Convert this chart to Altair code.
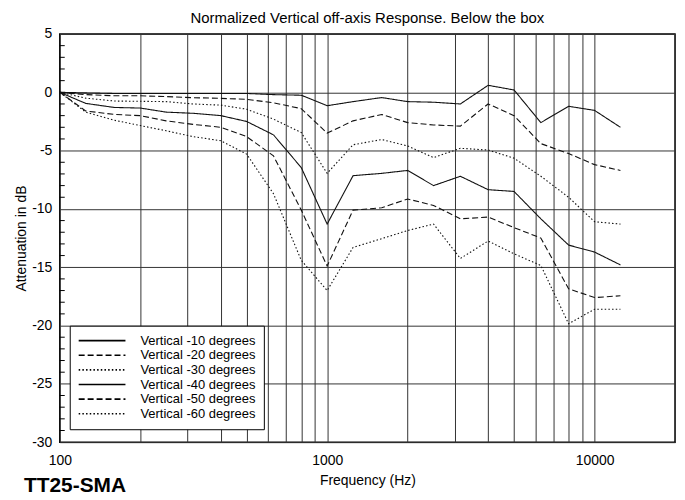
import altair as alt
import pandas as pd

freqs = [100, 125, 160, 200, 250, 315, 400, 500, 630, 800, 1000, 1250, 1600,
         2000, 2500, 3150, 4000, 5000, 6300, 8000, 10000, 12500]

series_names = ["Vertical -10 degrees", "Vertical -20 degrees", "Vertical -30 degrees",
                "Vertical -40 degrees", "Vertical -50 degrees", "Vertical -60 degrees"]

v10 = [0, -0.05, -0.1, -0.1, -0.1, -0.1, -0.1, -0.1, -0.2, -0.25, -1.15, -0.8, -0.45,
       -0.8, -0.85, -1.0, 0.6, 0.2, -2.6, -1.2, -1.55, -3.0]
v20 = [0, -0.2, -0.3, -0.3, -0.37, -0.46, -0.52, -0.6, -0.9, -1.4, -3.5, -2.45, -1.9,
       -2.6, -2.8, -2.9, -1.0, -2.0, -4.4, -5.25, -6.2, -6.7]
v30 = [0, -0.5, -0.75, -0.77, -0.8, -1.0, -1.1, -1.45, -2.3, -3.45, -6.95, -4.5, -4.05,
       -4.6, -5.6, -4.8, -4.95, -5.65, -7.2, -9.0, -11.1, -11.3]
v40 = [0, -0.95, -1.3, -1.35, -1.7, -1.8, -2.0, -2.5, -3.65, -6.45, -11.3, -7.15, -6.95,
       -6.7, -8.0, -7.2, -8.35, -8.5, -10.85, -13.1, -13.7, -14.8]
v50 = [0, -1.6, -1.9, -2.0, -2.45, -2.75, -3.0, -3.8, -5.45, -10.1, -14.9, -10.1, -9.9,
       -9.15, -9.7, -10.85, -10.7, -11.6, -12.5, -16.85, -17.6, -17.45]
v60 = [0, -1.7, -2.4, -2.85, -3.3, -3.8, -4.15, -5.3, -8.7, -14.4, -17.0, -13.3, -12.55,
       -11.85, -11.3, -14.25, -12.75, -13.85, -14.85, -19.85, -18.6, -18.6]

grid_freqs = [100, 200, 300, 400, 500, 600, 700, 800, 900,
              1000, 2000, 3000, 4000, 5000, 6000, 7000, 8000, 9000,
              10000, 20000]
y_ticks = [-30, -25, -20, -15, -10, -5, 0, 5]
minor_ticks = [v for v in range(-29, 5) if v % 5 != 0]

dash_styles = [[1, 0], [6, 3], [1.5, 2.2], [1, 0], [6, 3], [1.5, 2.2]]

rows = []
for name, vals in zip(series_names, [v10, v20, v30, v40, v50, v60]):
    for f, v in zip(freqs, vals):
        rows.append({"freq": f, "db": v, "series": name})
df = pd.DataFrame(rows)

FONT = "Liberation Sans"
x_scale = alt.Scale(type="log", domain=[100, 20000], nice=False)
y_scale = alt.Scale(domain=[-30, 5], nice=False, zero=False)

y_axis = alt.Axis(values=y_ticks, title="Attenuation in dB",
                  labelExpr="'' + datum.value",
                  grid=True, gridColor="#333333", gridWidth=1, gridOpacity=1,
                  ticks=False, tickSize=0, domain=False,
                  labelFontSize=14, labelFont=FONT, labelColor="black",
                  labelPadding=8, labelFlush=False, labelOverlap=False,
                  titleFontSize=14, titleFont=FONT, titleFontWeight="normal",
                  titleColor="black", titlePadding=3)

lines = alt.Chart(df).mark_line(strokeWidth=1.1, color="#111111").encode(
    x=alt.X("freq:Q", scale=x_scale,
            axis=alt.Axis(values=grid_freqs, title="Frequency (Hz)",
                          labelExpr="(datum.value == 100 || datum.value == 1000 || datum.value == 10000) ? '' + datum.value : ''",
                          grid=True, gridColor="#333333", gridWidth=1, gridOpacity=1,
                          ticks=False, tickSize=0, domain=False,
                          labelFontSize=14, labelFont=FONT, labelColor="black",
                          labelPadding=11, labelFlush=False, labelOverlap=False,
                          titleFontSize=14, titleFont=FONT, titleFontWeight="normal",
                          titleColor="black", titlePadding=7)),
    y=alt.Y("db:Q", scale=y_scale, axis=y_axis),
    strokeDash=alt.StrokeDash("series:N",
                              scale=alt.Scale(domain=series_names, range=dash_styles),
                              legend=alt.Legend(title=None, orient="none",
                                                legendX=10, legendY=293,
                                                symbolType="M-1,0H6.83", symbolSize=144,
                                                symbolStrokeWidth=1.6,
                                                symbolStrokeColor="black",
                                                labelFontSize=13, labelFont=FONT,
                                                labelColor="black", labelOffset=49,
                                                padding=8, rowPadding=0.7,
                                                strokeColor="black", fillColor="white")),
)

minor_df = pd.DataFrame({"db": minor_ticks})
minor = alt.Chart(minor_df).mark_rule(color="black", strokeWidth=1).encode(
    y=alt.Y("db:Q", scale=y_scale, axis=y_axis),
    x=alt.value(0), x2=alt.value(5),
)

label_df = pd.DataFrame({"t": ["TT25-SMA"]})
label = alt.Chart(label_df).mark_text(align="left", baseline="alphabetic",
                                      fontSize=21, fontWeight="bold", font=FONT,
                                      color="black").encode(
    text="t:N", x=alt.value(-36), y=alt.value(460))

chart = alt.layer(lines, minor, label).properties(
    width=618, height=410,
    background="white",
    title=alt.TitleParams("Normalized Vertical off-axis Response. Below the box",
                          fontSize=15, font=FONT, fontWeight="normal", color="black",
                          anchor="middle", offset=1),
    autosize=alt.AutoSizeParams(type="none"),
    padding={"left": 52, "top": 25, "right": 2, "bottom": 60},
).configure_view(stroke="black", strokeWidth=1.5)

chart.save("out.html", embed_options={"renderer": "svg", "actions": False})
